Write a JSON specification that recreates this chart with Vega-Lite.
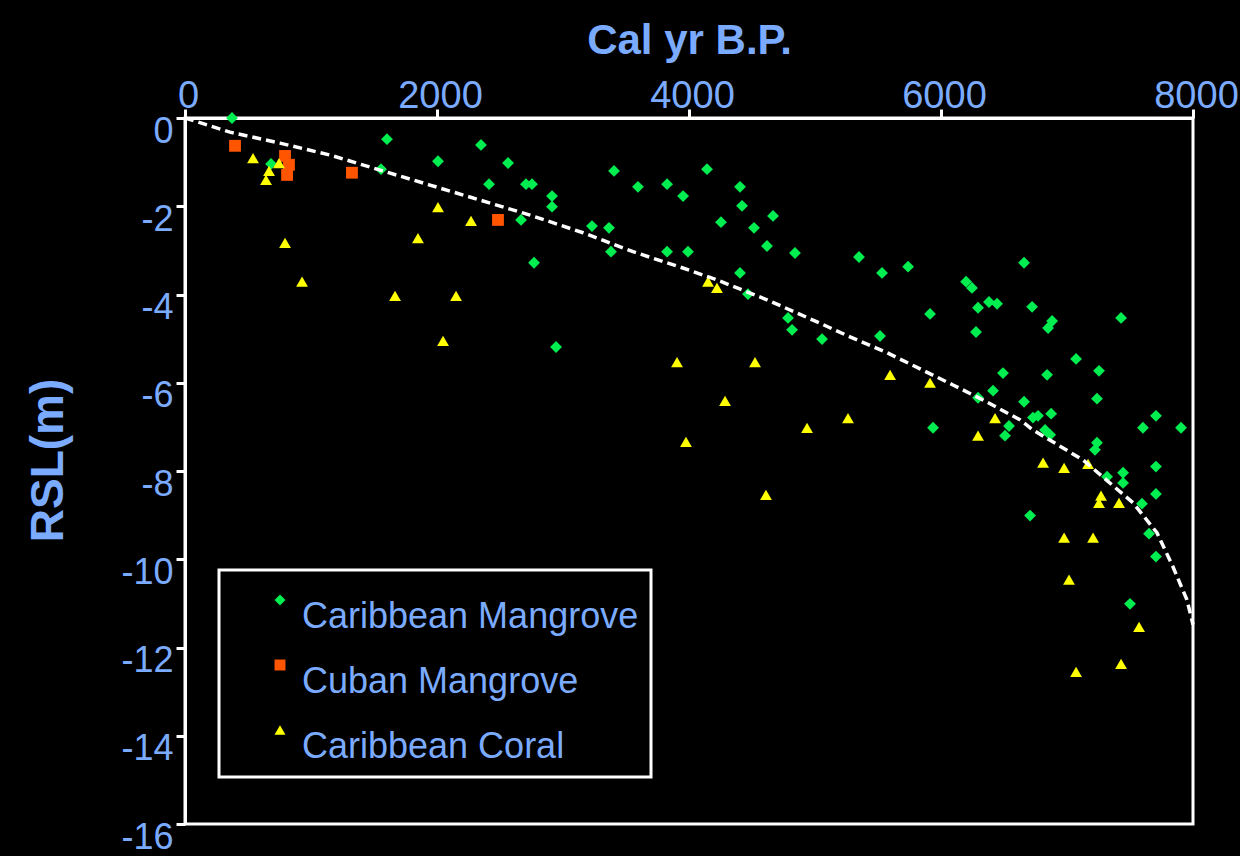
{
  "$schema": "https://vega.github.io/schema/vega-lite/v6.json",
  "width": 1008,
  "height": 706,
  "autosize": {"type": "none"},
  "padding": {"left": 185, "top": 118, "right": 47, "bottom": 32},
  "background": "black",
  "config": {
    "font": "Liberation Sans",
    "view": {"stroke": "white", "strokeWidth": 3},
    "axis": {
      "grid": false,
      "domainColor": "white",
      "domainWidth": 3,
      "tickColor": "white",
      "tickWidth": 3,
      "tickSize": 9,
      "labelColor": "#7babff",
      "titleColor": "#7babff",
      "labelFont": "Liberation Sans",
      "titleFont": "Liberation Sans",
      "labelOverlap": false,
      "labelFlush": false
    },
    "legend": {
      "orient": "none",
      "legendX": 34,
      "legendY": 452,
      "strokeColor": "white",
      "strokeWidth": 3,
      "fillColor": "black",
      "padding": 12,
      "labelFont": "Liberation Sans",
      "labelFontSize": 36,
      "labelColor": "#7babff",
      "labelBaseline": "top",
      "symbolSize": 120,
      "symbolOffset": 31,
      "labelOffset": 4,
      "rowPadding": 12,
      "labelLimit": 600,
      "symbolStrokeWidth": 0
    }
  },
  "datasets": {
    "pts": [
      {"group": "Caribbean Mangrove", "age": 373, "rsl": 0},
      {"group": "Caribbean Mangrove", "age": 1603, "rsl": -0.48},
      {"group": "Caribbean Mangrove", "age": 2349, "rsl": -0.61},
      {"group": "Caribbean Mangrove", "age": 2008, "rsl": -0.98},
      {"group": "Caribbean Mangrove", "age": 2564, "rsl": -1.02},
      {"group": "Caribbean Mangrove", "age": 683, "rsl": -1.04},
      {"group": "Caribbean Mangrove", "age": 1556, "rsl": -1.16},
      {"group": "Caribbean Mangrove", "age": 2413, "rsl": -1.5},
      {"group": "Caribbean Mangrove", "age": 2706, "rsl": -1.5},
      {"group": "Caribbean Mangrove", "age": 2754, "rsl": -1.5},
      {"group": "Caribbean Mangrove", "age": 2667, "rsl": -2.31},
      {"group": "Caribbean Mangrove", "age": 3405, "rsl": -1.2},
      {"group": "Caribbean Mangrove", "age": 2913, "rsl": -1.77},
      {"group": "Caribbean Mangrove", "age": 2913, "rsl": -2.01},
      {"group": "Caribbean Mangrove", "age": 3595, "rsl": -1.56},
      {"group": "Caribbean Mangrove", "age": 3826, "rsl": -1.5},
      {"group": "Caribbean Mangrove", "age": 4143, "rsl": -1.16},
      {"group": "Caribbean Mangrove", "age": 4405, "rsl": -1.56},
      {"group": "Caribbean Mangrove", "age": 3953, "rsl": -1.77},
      {"group": "Caribbean Mangrove", "age": 4421, "rsl": -1.99},
      {"group": "Caribbean Mangrove", "age": 4667, "rsl": -2.22},
      {"group": "Caribbean Mangrove", "age": 4254, "rsl": -2.36},
      {"group": "Caribbean Mangrove", "age": 4516, "rsl": -2.49},
      {"group": "Caribbean Mangrove", "age": 3230, "rsl": -2.45},
      {"group": "Caribbean Mangrove", "age": 3365, "rsl": -2.49},
      {"group": "Caribbean Mangrove", "age": 3381, "rsl": -3.03},
      {"group": "Caribbean Mangrove", "age": 3826, "rsl": -3.03},
      {"group": "Caribbean Mangrove", "age": 3992, "rsl": -3.03},
      {"group": "Caribbean Mangrove", "age": 4619, "rsl": -2.9},
      {"group": "Caribbean Mangrove", "age": 4841, "rsl": -3.06},
      {"group": "Caribbean Mangrove", "age": 4405, "rsl": -3.51},
      {"group": "Caribbean Mangrove", "age": 4468, "rsl": -3.99},
      {"group": "Caribbean Mangrove", "age": 2770, "rsl": -3.28},
      {"group": "Caribbean Mangrove", "age": 4786, "rsl": -4.53},
      {"group": "Caribbean Mangrove", "age": 4818, "rsl": -4.8},
      {"group": "Caribbean Mangrove", "age": 5056, "rsl": -5.01},
      {"group": "Caribbean Mangrove", "age": 2945, "rsl": -5.19},
      {"group": "Caribbean Mangrove", "age": 5349, "rsl": -3.15},
      {"group": "Caribbean Mangrove", "age": 5532, "rsl": -3.51},
      {"group": "Caribbean Mangrove", "age": 5739, "rsl": -3.37},
      {"group": "Caribbean Mangrove", "age": 6659, "rsl": -3.28},
      {"group": "Caribbean Mangrove", "age": 6199, "rsl": -3.71},
      {"group": "Caribbean Mangrove", "age": 6246, "rsl": -3.85},
      {"group": "Caribbean Mangrove", "age": 6381, "rsl": -4.17},
      {"group": "Caribbean Mangrove", "age": 6445, "rsl": -4.21},
      {"group": "Caribbean Mangrove", "age": 6294, "rsl": -4.3},
      {"group": "Caribbean Mangrove", "age": 6723, "rsl": -4.28},
      {"group": "Caribbean Mangrove", "age": 5913, "rsl": -4.44},
      {"group": "Caribbean Mangrove", "age": 6882, "rsl": -4.6},
      {"group": "Caribbean Mangrove", "age": 6850, "rsl": -4.76},
      {"group": "Caribbean Mangrove", "age": 7429, "rsl": -4.53},
      {"group": "Caribbean Mangrove", "age": 6278, "rsl": -4.85},
      {"group": "Caribbean Mangrove", "age": 5516, "rsl": -4.94},
      {"group": "Caribbean Mangrove", "age": 7072, "rsl": -5.46},
      {"group": "Caribbean Mangrove", "age": 7254, "rsl": -5.73},
      {"group": "Caribbean Mangrove", "age": 6492, "rsl": -5.78},
      {"group": "Caribbean Mangrove", "age": 6842, "rsl": -5.82},
      {"group": "Caribbean Mangrove", "age": 6413, "rsl": -6.18},
      {"group": "Caribbean Mangrove", "age": 7238, "rsl": -6.36},
      {"group": "Caribbean Mangrove", "age": 6659, "rsl": -6.43},
      {"group": "Caribbean Mangrove", "age": 6294, "rsl": -6.34},
      {"group": "Caribbean Mangrove", "age": 6730, "rsl": -6.79},
      {"group": "Caribbean Mangrove", "age": 6770, "rsl": -6.75},
      {"group": "Caribbean Mangrove", "age": 6874, "rsl": -6.7},
      {"group": "Caribbean Mangrove", "age": 7706, "rsl": -6.75},
      {"group": "Caribbean Mangrove", "age": 7603, "rsl": -7.02},
      {"group": "Caribbean Mangrove", "age": 7905, "rsl": -7.02},
      {"group": "Caribbean Mangrove", "age": 6540, "rsl": -6.98},
      {"group": "Caribbean Mangrove", "age": 5937, "rsl": -7.02},
      {"group": "Caribbean Mangrove", "age": 6508, "rsl": -7.2},
      {"group": "Caribbean Mangrove", "age": 6826, "rsl": -7.07},
      {"group": "Caribbean Mangrove", "age": 6866, "rsl": -7.18},
      {"group": "Caribbean Mangrove", "age": 7238, "rsl": -7.36},
      {"group": "Caribbean Mangrove", "age": 7222, "rsl": -7.52},
      {"group": "Caribbean Mangrove", "age": 7706, "rsl": -7.9},
      {"group": "Caribbean Mangrove", "age": 7445, "rsl": -8.04},
      {"group": "Caribbean Mangrove", "age": 7318, "rsl": -8.13},
      {"group": "Caribbean Mangrove", "age": 7445, "rsl": -8.27},
      {"group": "Caribbean Mangrove", "age": 7706, "rsl": -8.52},
      {"group": "Caribbean Mangrove", "age": 7595, "rsl": -8.74},
      {"group": "Caribbean Mangrove", "age": 7651, "rsl": -9.42},
      {"group": "Caribbean Mangrove", "age": 7706, "rsl": -9.94},
      {"group": "Caribbean Mangrove", "age": 6707, "rsl": -9.01},
      {"group": "Caribbean Mangrove", "age": 7500, "rsl": -11.01},
      {"group": "Cuban Mangrove", "age": 397, "rsl": -0.63},
      {"group": "Cuban Mangrove", "age": 794, "rsl": -0.86},
      {"group": "Cuban Mangrove", "age": 825, "rsl": -1.06},
      {"group": "Cuban Mangrove", "age": 810, "rsl": -1.29},
      {"group": "Cuban Mangrove", "age": 1325, "rsl": -1.24},
      {"group": "Cuban Mangrove", "age": 2484, "rsl": -2.31},
      {"group": "Caribbean Coral", "age": 540, "rsl": -0.91},
      {"group": "Caribbean Coral", "age": 746, "rsl": -1.02},
      {"group": "Caribbean Coral", "age": 667, "rsl": -1.2},
      {"group": "Caribbean Coral", "age": 643, "rsl": -1.4},
      {"group": "Caribbean Coral", "age": 2008, "rsl": -2.02},
      {"group": "Caribbean Coral", "age": 2270, "rsl": -2.33},
      {"group": "Caribbean Coral", "age": 1849, "rsl": -2.72},
      {"group": "Caribbean Coral", "age": 794, "rsl": -2.83},
      {"group": "Caribbean Coral", "age": 929, "rsl": -3.71},
      {"group": "Caribbean Coral", "age": 1667, "rsl": -4.03},
      {"group": "Caribbean Coral", "age": 2151, "rsl": -4.03},
      {"group": "Caribbean Coral", "age": 2048, "rsl": -5.05},
      {"group": "Caribbean Coral", "age": 4151, "rsl": -3.71},
      {"group": "Caribbean Coral", "age": 4222, "rsl": -3.85},
      {"group": "Caribbean Coral", "age": 3905, "rsl": -5.53},
      {"group": "Caribbean Coral", "age": 4524, "rsl": -5.53},
      {"group": "Caribbean Coral", "age": 4286, "rsl": -6.41},
      {"group": "Caribbean Coral", "age": 4937, "rsl": -7.02},
      {"group": "Caribbean Coral", "age": 3976, "rsl": -7.34},
      {"group": "Caribbean Coral", "age": 4611, "rsl": -8.54},
      {"group": "Caribbean Coral", "age": 5262, "rsl": -6.8},
      {"group": "Caribbean Coral", "age": 5596, "rsl": -5.82},
      {"group": "Caribbean Coral", "age": 5913, "rsl": -6.0},
      {"group": "Caribbean Coral", "age": 6429, "rsl": -6.8},
      {"group": "Caribbean Coral", "age": 6294, "rsl": -7.2},
      {"group": "Caribbean Coral", "age": 6810, "rsl": -7.81},
      {"group": "Caribbean Coral", "age": 6977, "rsl": -7.93},
      {"group": "Caribbean Coral", "age": 7167, "rsl": -7.84},
      {"group": "Caribbean Coral", "age": 7270, "rsl": -8.56},
      {"group": "Caribbean Coral", "age": 7254, "rsl": -8.72},
      {"group": "Caribbean Coral", "age": 7413, "rsl": -8.72},
      {"group": "Caribbean Coral", "age": 6977, "rsl": -9.51},
      {"group": "Caribbean Coral", "age": 7207, "rsl": -9.51},
      {"group": "Caribbean Coral", "age": 7016, "rsl": -10.46},
      {"group": "Caribbean Coral", "age": 7572, "rsl": -11.53},
      {"group": "Caribbean Coral", "age": 7429, "rsl": -12.37},
      {"group": "Caribbean Coral", "age": 7072, "rsl": -12.55}
    ],
    "fit": [
      {"age": 0, "rsl": 0},
      {"age": 357, "rsl": -0.32},
      {"age": 754, "rsl": -0.57},
      {"age": 1151, "rsl": -0.84},
      {"age": 1548, "rsl": -1.18},
      {"age": 1944, "rsl": -1.52},
      {"age": 2341, "rsl": -1.86},
      {"age": 2738, "rsl": -2.2},
      {"age": 3159, "rsl": -2.6},
      {"age": 3556, "rsl": -3.03},
      {"age": 3952, "rsl": -3.4},
      {"age": 4222, "rsl": -3.67},
      {"age": 4619, "rsl": -4.12},
      {"age": 5016, "rsl": -4.62},
      {"age": 5278, "rsl": -4.96},
      {"age": 5572, "rsl": -5.32},
      {"age": 6095, "rsl": -6.05},
      {"age": 6333, "rsl": -6.39},
      {"age": 6627, "rsl": -6.84},
      {"age": 6730, "rsl": -7.07},
      {"age": 7127, "rsl": -7.75},
      {"age": 7524, "rsl": -8.72},
      {"age": 7714, "rsl": -9.4},
      {"age": 7841, "rsl": -10.17},
      {"age": 7952, "rsl": -10.92},
      {"age": 8000, "rsl": -11.48}
    ]
  },
  "layer": [
    {
      "data": {"name": "pts"},
      "mark": {"type": "point", "filled": true, "opacity": 1, "size": 140, "strokeWidth": 0},
      "encoding": {
        "x": {
          "field": "age",
          "type": "quantitative",
          "scale": {"domain": [0, 8000], "nice": false},
          "axis": {
            "orient": "top",
            "values": [0, 2000, 4000, 6000, 8000],
            "format": "d",
            "title": "Cal yr B.P.",
            "labelFontSize": 38,
            "labelBaseline": "alphabetic",
            "labelPadding": 2,
            "labelOffset": 3,
            "titleFontSize": 42,
            "titleFontWeight": "bold",
            "titleBaseline": "alphabetic",
            "titleY": -65
          }
        },
        "y": {
          "field": "rsl",
          "type": "quantitative",
          "scale": {"domain": [-16, 0], "nice": false},
          "axis": {
            "values": [0, -2, -4, -6, -8, -10, -12, -14, -16],
            "labelExpr": "'' + datum.value",
            "title": "RSL(m)",
            "labelFontSize": 36,
            "labelPadding": 3,
            "labelOffset": 13,
            "titleFontSize": 46,
            "titleFontWeight": "bold",
            "titleAngle": -90,
            "titleAlign": "center",
            "titleBaseline": "middle",
            "titleX": -137,
            "titleY": 342
          }
        },
        "shape": {
          "field": "group",
          "type": "nominal",
          "title": null,
          "scale": {
            "domain": ["Caribbean Mangrove", "Cuban Mangrove", "Caribbean Coral"],
            "range": ["diamond", "square", "triangle-up"]
          }
        },
        "color": {
          "field": "group",
          "type": "nominal",
          "title": null,
          "scale": {
            "domain": ["Caribbean Mangrove", "Cuban Mangrove", "Caribbean Coral"],
            "range": ["#00ee50", "#ff5500", "#ffff00"]
          }
        }
      }
    },
    {
      "data": {"name": "fit"},
      "mark": {"type": "line", "color": "white", "strokeWidth": 3.5, "strokeDash": [9, 5]},
      "encoding": {
        "x": {"field": "age", "type": "quantitative"},
        "y": {"field": "rsl", "type": "quantitative"}
      }
    }
  ]
}
